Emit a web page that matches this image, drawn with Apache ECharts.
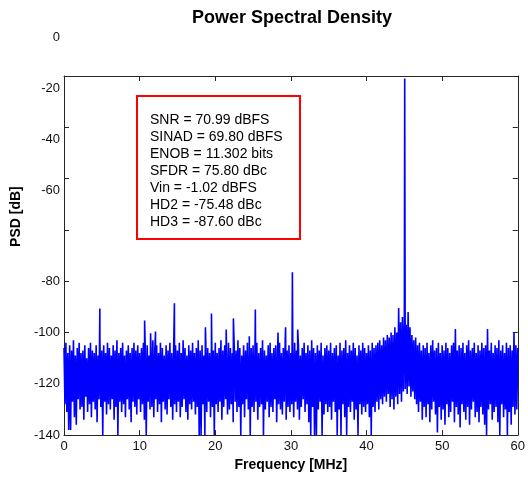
<!DOCTYPE html>
<html><head><meta charset="utf-8">
<script src="https://cdn.jsdelivr.net/npm/echarts@6/dist/echarts.min.js"></script>
<style>html,body{margin:0;padding:0;background:#fff}#c{width:528px;height:477px}</style>
</head><body><div id="c"></div>
<script>
// Spectrum: upper and lower envelope of the noise floor per 0.25 MHz bin
const binWidthMHz = 0.25;
const noiseUpperDb = [
-106,-104,-108,-105,-107,-103,-109,-106,-104,-108,-107,-105,-110,-106,-104,-107,-108,-105,-109,-103,
-107,-105,-108,-104,-106,-109,-105,-107,-103,-108,-106,-104,-109,-107,-105,-108,-106,-104,-107,-105,
-108,-106,-104,-107,-105,-109,-106,-103,-107,-105,-108,-104,-106,-109,-105,-107,-104,-108,-106,-105,
-107,-104,-108,-103,-106,-109,-105,-107,-104,-108,-106,-103,-107,-105,-109,-104,-106,-108,-105,-107,
-104,-108,-106,-103,-107,-105,-109,-104,-106,-108,-105,-107,-103,-106,-109,-105,-107,-104,-108,-106,
-105,-107,-104,-108,-106,-103,-107,-109,-105,-104,-108,-106,-105,-107,-104,-108,-106,-103,-107,-105,
-108,-106,-104,-107,-105,-109,-106,-104,-108,-105,-107,-103,-106,-108,-105,-107,-104,-109,-106,-105,
-107,-104,-108,-106,-105,-109,-104,-107,-106,-103,-108,-105,-107,-104,-106,-109,-105,-107,-104,-106,
-108,-105,-107,-104,-106,-105,-104,-103,-105,-102,-103,-101,-102,-100,-101,-98,-100,-90.5,-96,-94,
-95,-97,-92,-98,-101,-103,-102,-105,-104,-107,-105,-106,-104,-108,-105,-103,-107,-106,-104,-108,
-105,-107,-104,-106,-108,-105,-104,-98.6,-107,-105,-106,-104,-108,-105,-103,-107,-106,-104,-108,-105,
-107,-104,-106,-105,-98.6,-107,-104,-108,-105,-106,-103,-107,-105,-108,-104,-106,-105,-107,-99.8,-105,
-106
];
const noiseLowerDb = [
-128,-131,-138,-138,-127,-133,-136,-126,-130,-129,-134,-125,-131,-128,-133,-127,-130,-135,-126,-129,
-140,-127,-132,-128,-130,-126,-134,-129,-140,-127,-131,-128,-133,-126,-130,-135,-127,-129,-132,-126,
-131,-128,-134,-140,-127,-130,-129,-133,-126,-131,-128,-135,-127,-130,-132,-126,-129,-134,-128,-131,
-127,-133,-129,-126,-131,-134,-128,-130,-127,-132,-129,-140,-140,-128,-140,-131,-127,-133,-129,-140,
-128,-131,-127,-134,-129,-126,-132,-130,-128,-135,-127,-131,-129,-140,-128,-133,-126,-130,-140,-129,
-131,-127,-134,-129,-128,-140,-130,-127,-133,-129,-131,-126,-135,-128,-130,-132,-127,-134,-129,-131,
-128,-133,-127,-130,-134,-129,-126,-131,-128,-135,-140,-129,-140,-140,-130,-127,-140,-132,-128,-131,
-129,-134,-127,-131,-140,-130,-140,-128,-133,-140,-129,-131,-127,-134,-130,-140,-128,-132,-129,-131,
-128,-133,-140,-129,-131,-127,-130,-126,-128,-125,-127,-124,-129,-126,-130,-125,-128,-124,-127,-123,
-122,-124,-121,-125,-123,-126,-128,-131,-127,-134,-129,-133,-128,-135,-130,-127,-132,-139,-129,-134,
-130,-136,-128,-133,-131,-127,-135,-129,-132,-137,-128,-131,-134,-129,-136,-130,-127,-133,-131,-135,
-129,-132,-136,-140,-130,-128,-134,-131,-129,-135,-140,-128,-133,-130,-140,-131,-136,-129,-132,-130
];
// Discrete tones: spurs, HD3 (14.6 MHz), HD2 (30.2 MHz) and the fundamental (~45 MHz)
const spurFreqMHz = [4.74, 10.66, 11.45, 12.1, 14.6, 18.7, 19.5, 21.45, 22.4, 24.5, 25.3, 28.3, 29.3, 30.2, 30.9, 45.05];
const spurLevelDb = [-90.6, -95.3, -100.3, -99.6, -88.6, -98, -92.6, -98.8, -94.5, -101.5, -91, -100, -98, -76.5, -98.8, -1.02];
const statsLines = ['SNR = 70.99 dBFS', 'SINAD = 69.80 dBFS', 'ENOB = 11.302 bits', 'SFDR = 75.80 dBc', 'Vin = -1.02 dBFS', 'HD2 = -75.48 dBc', 'HD3 = -87.60 dBc'];

const pts = [];
noiseUpperDb.forEach((v, i) => pts.push([i * binWidthMHz, v]));
noiseLowerDb.forEach((v, i) => pts.push([i * binWidthMHz + binWidthMHz / 2, v]));
spurFreqMHz.forEach((f, i) => pts.push([f, spurLevelDb[i]]));
pts.sort((a, b) => a[0] - b[0]);

const FONT = '"Liberation Sans", Arial, Helvetica, sans-serif';
const chart = echarts.init(document.getElementById('c'), null, {renderer: 'canvas'});
const axisLine = {show: true, onZero: false, lineStyle: {color: '#262626', width: 1}};
const tick = {show: true, inside: true, length: 5, lineStyle: {color: '#262626'}};
chart.setOption({
  animation: false,
  backgroundColor: '#fff',
  title: {text: 'Power Spectral Density', left: 287, top: 4, textAlign: 'center',
    textStyle: {fontFamily: FONT, fontSize: 18, fontWeight: 'bold', color: '#000'}},
  grid: {left: 64, right: 8, top: 76, bottom: 41, containLabel: false},
  xAxis: [{
    type: 'value', min: 0, max: 60, interval: 10, position: 'bottom',
    name: 'Frequency [MHz]', nameLocation: 'middle', nameGap: 22,
    nameTextStyle: {fontFamily: FONT, fontSize: 14, fontWeight: 'bold', color: '#000'},
    axisLine: axisLine, axisTick: tick,
    axisLabel: {fontFamily: FONT, fontSize: 13, color: '#111', margin: 5},
    splitLine: {show: false}
  }, {
    type: 'value', min: 0, max: 60, interval: 10, position: 'top',
    axisLine: axisLine, axisTick: tick,
    axisLabel: {show: false}, splitLine: {show: false}
  }],
  yAxis: [{
    type: 'value', min: -140, max: 0, interval: 20, position: 'left',
    name: 'PSD [dB]', nameLocation: 'middle', nameGap: 27,
    nameTextStyle: {fontFamily: FONT, fontSize: 14, fontWeight: 'bold', color: '#000', padding: [0, 0, 0, 78]},
    axisLine: axisLine, axisTick: tick,
    axisLabel: {fontFamily: FONT, fontSize: 13, color: '#111', margin: 4,
      formatter: v => v >= -60 ? '{up|' + v + '}' : String(v),
      rich: {up: {fontFamily: FONT, fontSize: 13, color: '#111', padding: [0, 0, 78, 0]}}},
    splitLine: {show: false}
  }, {
    type: 'value', min: -140, max: 0, interval: 20, position: 'right',
    axisLine: axisLine, axisTick: tick,
    axisLabel: {show: false}, splitLine: {show: false}
  }],
  series: [{
    type: 'line', data: pts, xAxisIndex: 0, yAxisIndex: 0,
    showSymbol: false, symbol: 'none', sampling: null, clip: true,
    lineStyle: {color: '#0000ff', width: 1.6}, z: 2
  }],
  graphic: [{
    type: 'rect', left: 136, top: 95, z: 100,
    shape: {width: 163, height: 143},
    style: {fill: '#fff', stroke: '#ff0000', lineWidth: 2}
  }, {
    type: 'text', left: 150, top: 112, z: 101,
    style: {text: statsLines.join('\n'), font: '14px ' + FONT, lineHeight: 17, fill: '#000'}
  }]
});
</script></body></html>
